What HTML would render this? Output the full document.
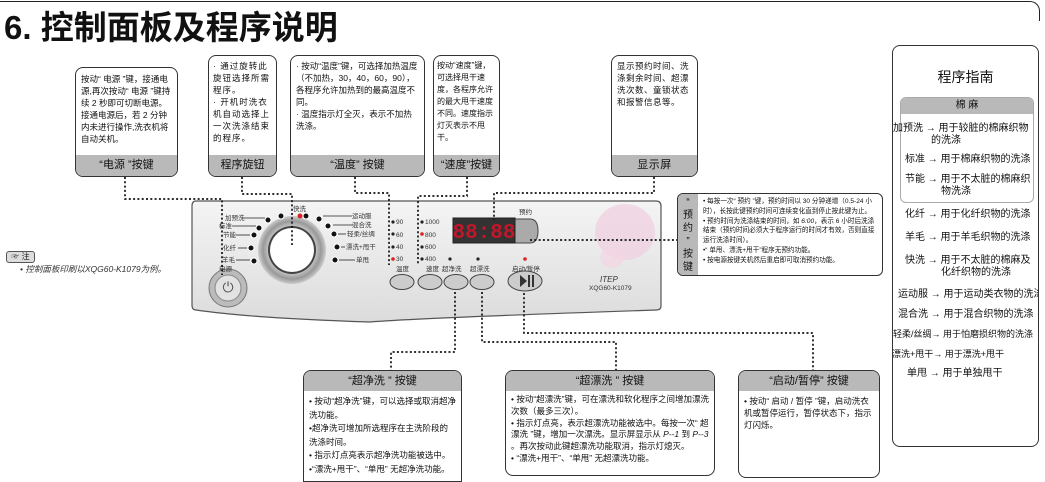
<!DOCTYPE html>
<html><head><meta charset="utf-8"><style>
*{margin:0;padding:0;box-sizing:border-box}
body{width:1045px;height:480px;background:#fff;position:relative;overflow:hidden;font-family:"Liberation Sans","Noto Sans CJK SC",sans-serif;color:#111}
.a{position:absolute}
.box{position:absolute;border:1.3px solid #333;border-radius:8px;background:#fff;overflow:hidden;font-size:8.5px;line-height:12px}
.ft{position:absolute;left:0;right:0;bottom:0;height:21px;background:#b9b9b9;text-align:center;font-size:11px;line-height:21px}
.hd{background:#b9b9b9;text-align:center;font-size:11px;line-height:20px;height:20px}
.g{position:absolute;left:0;width:150px;font-size:10px;line-height:12px;white-space:nowrap}
</style></head><body>
<div class="a" style="left:0;top:1px;width:1040px;height:20px;border-top:1.5px solid #222;border-right:1.5px solid #222;border-top-right-radius:10px"></div>
<div class="a" style="left:4px;top:6px;font-size:33px;font-weight:bold;line-height:44px">6. 控制面板及程序说明</div>

<svg class="a" style="left:0;top:0" width="1045" height="480">
<defs><linearGradient id="pg" x1="0" y1="0" x2="0" y2="1"><stop offset="0" stop-color="#f4f4f4"/><stop offset="1" stop-color="#dcdcdc"/></linearGradient>
<radialGradient id="dg"><stop offset="0.6" stop-color="#ddd"/><stop offset="0.85" stop-color="#999"/><stop offset="1" stop-color="#ccc"/></radialGradient></defs>
<path d="M196,201 L656,201 Q661,201 661,206 L661,306 Q661,310 656,310 Q420,318 370,322 Q250,318 196,310 Q192,310 192,305 L192,206 Q192,201 196,201Z" fill="url(#pg)" stroke="#555" stroke-width="1.2"/>
<ellipse cx="625" cy="232" rx="30" ry="28" fill="#f0cde0" opacity="0.7"/>
<ellipse cx="612" cy="258" rx="12" ry="10" fill="#f3d6e4" opacity="0.7"/>
<circle cx="228" cy="288" r="19" fill="#bbb" stroke="#777"/><circle cx="228" cy="288" r="13" fill="#e2e2e2" stroke="#888"/>
<text x="228" y="292" font-size="14" text-anchor="middle" fill="#555">⏻</text>
<circle cx="292" cy="250" r="34" fill="url(#dg)"/><circle cx="292" cy="250" r="24" fill="#444"/><circle cx="292" cy="250" r="22" fill="#fff"/>
<g fill="#111" stroke="#fff" stroke-width="1">
<circle cx="268" cy="220" r="3"/><circle cx="259" cy="228" r="3"/><circle cx="254" cy="235" r="3"/><circle cx="251" cy="248" r="3"/><circle cx="254" cy="261" r="3"/>
<circle cx="319" cy="219" r="3"/><circle cx="328" cy="226" r="3"/><circle cx="334" cy="234" r="3"/><circle cx="337" cy="247" r="3"/><circle cx="335" cy="260" r="3"/><circle cx="281" cy="216" r="3"/><circle cx="306" cy="216" r="3"/></g>
<circle cx="300" cy="216" r="2.5" fill="#d22"/>
<g stroke="#222" stroke-width="0.8"><line x1="242" y1="218" x2="265" y2="218"/><line x1="232" y1="226" x2="256" y2="226"/><line x1="236" y1="235" x2="250" y2="235"/><line x1="238" y1="248" x2="247" y2="248"/><line x1="236" y1="260" x2="250" y2="260"/>
<line x1="323" y1="216" x2="352" y2="216"/><line x1="333" y1="225" x2="353" y2="225"/><line x1="338" y1="234" x2="346" y2="234"/><line x1="341" y1="247" x2="345" y2="247"/><line x1="339" y1="260" x2="355" y2="260"/></g>
<g font-size="6.5" fill="#333">
<text x="225" y="220">加预洗</text><text x="219" y="228">标准</text><text x="223" y="237">节能</text><text x="223" y="250">化纤</text><text x="222" y="262">羊毛</text>
<text x="352" y="218">运动服</text><text x="352" y="227">混合洗</text><text x="347" y="236">轻柔/丝绸</text><text x="346" y="249">漂洗+甩干</text><text x="356" y="262">单甩</text>
<text x="293" y="211">快洗</text><text x="219" y="271">电源</text>
<text x="396" y="224">90</text><text x="396" y="237">60</text><text x="396" y="249">40</text><text x="396" y="261">30</text>
<text x="425" y="224">1000</text><text x="425" y="237">800</text><text x="425" y="249">600</text><text x="425" y="261">400</text>
<text x="396" y="271">温度</text><text x="426" y="271">速度</text><text x="442" y="271">超净洗</text><text x="470" y="271">超漂洗</text><text x="512" y="271">启动/暂停</text>
<text x="519" y="214">预约</text><text x="589" y="290">XQG60-K1079</text></g>
<text x="600" y="282" font-size="8" font-style="italic" fill="#333">ITEP</text>
<g fill="#222"><circle cx="393" cy="222" r="1.6"/><circle cx="393" cy="234" r="1.6"/><circle cx="393" cy="247" r="1.6"/><circle cx="422" cy="222" r="1.6"/><circle cx="422" cy="247" r="1.6"/><circle cx="422" cy="259" r="1.6"/><circle cx="450" cy="259" r="1.6"/><circle cx="478" cy="259" r="1.6"/></g>
<g fill="#d22"><circle cx="393" cy="259" r="1.8"/><circle cx="422" cy="234" r="1.8"/><circle cx="525" cy="259" r="1.8"/></g>
<g fill="#ccc" stroke="#444"><ellipse cx="402" cy="282" rx="12" ry="7.5"/><ellipse cx="430" cy="282" rx="12" ry="7.5"/><ellipse cx="450" cy="282" rx="12" ry="7.5" transform="translate(6,0)"/><ellipse cx="482" cy="282" rx="12" ry="7.5"/><ellipse cx="525" cy="281" rx="17" ry="10"/></g>
<path d="M520,275 L527,281 L520,287Z" fill="#333"/><rect x="528" y="275" width="2" height="12" fill="#333"/><rect x="532" y="275" width="2" height="12" fill="#333"/>
<path d="M500,219 L530,219 Q538,219 538,231 Q538,243 530,243 L500,243Z" fill="#aaa" stroke="#444"/>
<rect x="453" y="218" width="62" height="25" fill="#333" stroke="#222"/>
<text x="484" y="238" font-size="21" text-anchor="middle" fill="#c2162b" font-family="Liberation Mono,monospace" font-weight="bold">88:88</text>
<g fill="none" stroke="#111" stroke-width="1.7" stroke-dasharray="2,2.3">
<polyline points="125,177 125,199 222,199 222,275"/>
<polyline points="242,177 242,194 292,194 292,245"/>
<polyline points="355,177 355,193 389,193 389,265"/>
<polyline points="467,177 467,196 418,196 418,265"/>
<polyline points="654,177 654,193 494,193 494,220"/>
<polyline points="530,240 677,240"/>
<polyline points="455,292 455,352 391,352 391,370"/>
<polyline points="482,292 482,342 616,342 616,370"/>
<polyline points="524,293 524,333 813,333 813,370"/>
</g>
</svg>

<div class="box" style="left:75px;top:67px;width:103px;height:110px;padding:5px 5px"><div>按动“ 电源 ”键，接通电源,再次按动“ 电源 ”键持续 2 秒即可切断电源。接通电源后，若 2 分钟内未进行操作,洗衣机将自动关机。</div><div class="ft">“电源 ”按键</div></div>
<div class="box" style="left:208px;top:55px;width:69px;height:122px;padding:4px 4px;letter-spacing:1px"><div>· 通过旋转此旋钮选择所需程序。<br>· 开机时洗衣机自动选择上一次洗涤结束的程序。</div><div class="ft" style="letter-spacing:0">程序旋钮</div></div>
<div class="box" style="left:290px;top:55px;width:135px;height:122px;padding:4px 5px"><div>· 按动“温度”键，可选择加热温度（不加热，30，40，60，90），各程序允许加热到的最高温度不同。<br>· 温度指示灯全灭，表示不加热洗涤。</div><div class="ft">“温度” 按键</div></div>
<div class="box" style="left:433px;top:55px;width:67px;height:122px;padding:4px 3px;font-size:8px"><div>按动“速度”键，可选择甩干速度，各程序允许的最大甩干速度不同。速度指示灯灭表示不甩干。</div><div class="ft">“速度”按键</div></div>
<div class="box" style="left:611px;top:55px;width:87px;height:122px;padding:4px 5px;letter-spacing:0.5px"><div>显示预约时间、洗涤剩余时间、超漂洗次数、童锁状态和报警信息等。</div><div class="ft">显示屏</div></div>

<div class="box" style="left:677px;top:193px;width:206px;height:83px;font-size:6.6px;line-height:9.8px;padding:3px 3px 0 25px;border-radius:6px"><div class="a" style="left:0;top:0;width:20px;height:83px;background:#b9b9b9;font-size:10px;line-height:13px;text-align:center;padding-top:2px">“<br>预<br>约<br>”<br>按<br>键</div>• 每按一次“ 预约 ”键，预约时间以 30 分钟递增（0.5-24 小时），长按此键预约时间可连续变化直到停止按此键为止。<br>• 预约时间为洗涤结束的时间，如 <i>6:00</i>，表示 6 小时后洗涤结束（预约时间必须大于程序运行的时间才有效，否则直接运行洗涤时间）。<br>•“ 单甩、漂洗+甩干”程序无预约功能。<br>• 按电源按键关机然后重启即可取消预约功能。</div>

<div class="a" style="left:6px;top:251px;width:29px;height:12px;border:1px solid #555;border-radius:3px;background:#ddd;font-size:8px;line-height:10px;text-align:center">☞ 注</div>
<div class="a" style="left:20px;top:263px;font-size:8.5px;font-style:italic;color:#333">• 控制面板印刷以XQG60-K1079为例。</div>

<div class="box" style="left:303px;top:370px;width:159px;height:112px;border-radius:8px 8px 0 0"><div class="hd">“超净洗 ” 按键</div><div style="padding:4px 5px;line-height:13.5px">• 按动“超净洗”键，可以选择或取消超净洗功能。<br>•超净洗可增加所选程序在主洗阶段的洗涤时间。<br>• 指示灯点亮表示超净洗功能被选中。<br>•“漂洗+甩干”、“单甩” 无超净洗功能。</div></div>
<div class="box" style="left:505px;top:370px;width:210px;height:106px"><div class="hd">“超漂洗 ” 按键</div><div style="padding:3px 5px;line-height:11.8px">• 按动“超漂洗”键，可在漂洗和软化程序之间增加漂洗次数（最多三次）。<br>• 指示灯点亮，表示超漂洗功能被选中。每按一次“ 超漂洗 ”键，增加一次漂洗。显示屏显示从 <i>P--1</i> 到 <i>P--3</i> 。再次按动此键超漂洗功能取消，指示灯熄灭。<br>• “漂洗+甩干”、“单甩” 无超漂洗功能。</div></div>
<div class="box" style="left:738px;top:370px;width:142px;height:108px"><div class="hd">“启动/暂停” 按键</div><div style="padding:4px 5px">• 按动“ 启动 / 暂停 ”键，启动洗衣机或暂停运行，暂停状态下，指示灯闪烁。</div></div>

<div class="box" style="left:892px;top:45px;width:147px;height:402px;font-size:10px">
<div class="a" style="left:0;width:145px;top:22px;text-align:center;font-size:14px;line-height:18px">程序指南</div>
<div class="a" style="left:7px;top:51px;width:134px;height:106px;border:1px solid #aaa;border-radius:6px;overflow:hidden"><div class="hd" style="height:16px;line-height:16px;font-size:10px">棉 麻</div></div>
<div class="g" style="top:77px"><span>加预洗 → 用于较脏的棉麻织物</span><br><span style="padding-left:38px">的洗涤</span></div>
<div class="g" style="top:108px;left:12px">标准 → 用于棉麻织物的洗涤</div>
<div class="g" style="top:128px;left:12px">节能 → 用于不太脏的棉麻织<br><span style="padding-left:36px">物洗涤</span></div>
<div class="g" style="top:163px;left:12px">化纤 → 用于化纤织物的洗涤</div>
<div class="g" style="top:186px;left:12px">羊毛 → 用于羊毛织物的洗涤</div>
<div class="g" style="top:209px;left:12px">快洗 → 用于不太脏的棉麻及<br><span style="padding-left:36px">化纤织物的洗涤</span></div>
<div class="g" style="top:243px;left:5px">运动服 → 用于运动类衣物的洗涤</div>
<div class="g" style="top:263px;left:5px">混合洗 → 用于混合织物的洗涤</div>
<div class="g" style="top:282px;left:0;font-size:9px">轻柔/丝绸→ 用于怕磨损织物的洗涤</div>
<div class="g" style="top:302px;left:-1px;font-size:9px">漂洗+甩干→ 用于漂洗+甩干</div>
<div class="g" style="top:322px;left:14px">单甩 → 用于单独甩干</div>
</div>
</body></html>
